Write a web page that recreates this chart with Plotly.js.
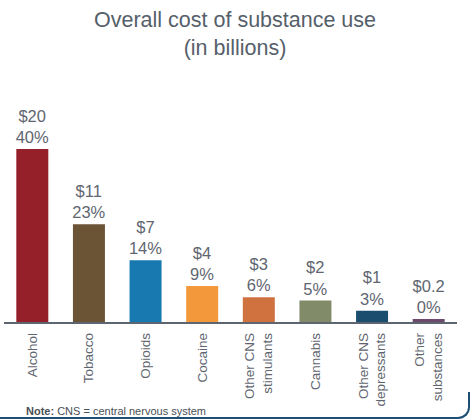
<!DOCTYPE html>
<html>
<head>
<meta charset="utf-8">
<script src="https://cdn.plot.ly/plotly-3.0.1.min.js"></script>
<style>
html,body{margin:0;padding:0;background:#fff;}
#wrap{position:relative;width:470px;height:420px;overflow:hidden;}
#chart{position:absolute;left:0;top:0;width:470px;height:420px;}
#frame{position:absolute;left:-20px;top:392px;width:488px;height:25px;border-bottom:2px solid #1d4e74;border-right:2px solid #1d4e74;border-bottom-right-radius:12px;pointer-events:none;}
</style>
</head>
<body>
<div id="wrap"><div id="chart"></div><div id="frame"></div></div>
<script>
const categories = ["Alcohol","Tobacco","Opioids","Cocaine","Other CNS<br>stimulants","Cannabis","Other CNS<br>depressants","Other<br>substances"];
const costs = [20.2, 11.4, 7.2, 4.2, 2.9, 2.5, 1.3, 0.35];
const costLabels = ["$20","$11","$7","$4","$3","$2","$1","$0.2"];
const shareLabels = ["40%","23%","14%","9%","6%","5%","3%","0%"];
const colors = ["#962029","#6b5335","#1878b0","#f4993b","#d07240","#818a69","#1a4d6e","#6b4a6b"];

const textColor = "#5f6670";
const trace = {
  type: "bar",
  x: categories,
  y: costs,
  marker: {color: colors},
  text: costLabels.map((c,i) => c + "<br>" + shareLabels[i]),
  textposition: "outside",
  constraintext: "none",
  cliponaxis: false,
  textfont: {family: "Liberation Sans, Arial, sans-serif", size: 16.5, color: textColor},
  hoverinfo: "none"
};

const layout = {
  width: 470, height: 420,
  margin: {l: 4, r: 13, t: 95, b: 98},
  paper_bgcolor: "#ffffff",
  plot_bgcolor: "#ffffff",
  bargap: 0.435,
  showlegend: false,
  xaxis: {
    type: "category",
    tickangle: -90,
    tickfont: {family: "Liberation Sans Narrow, Arial Narrow, Liberation Sans, sans-serif", size: 13.5, color: textColor},
    showline: true, linecolor: "#5d6670", linewidth: 1.5,
    ticks: "", showgrid: false, zeroline: false,
    ticklabelstandoff: 4
  },
  yaxis: {
    range: [0, 26.5],
    visible: false, showgrid: false, zeroline: false
  },
  annotations: [{
    xref: "paper", yref: "paper",
    x: 0.511, y: (322 - 34) / 227, xanchor: "center", yanchor: "middle",
    showarrow: false,
    text: "Overall cost of substance use<br>(in billions)",
    font: {family: "Liberation Sans, Arial, sans-serif", size: 21.5, color: "#56606a"}
  },{
    xref: "paper", yref: "paper",
    x: 0.044, y: -0.39, xanchor: "left", yanchor: "middle",
    showarrow: false,
    text: "<b>Note:</b> CNS = central nervous system",
    font: {family: "Liberation Sans, Arial, sans-serif", size: 11, color: "#4a4f55"}
  }]
};

Plotly.newPlot("chart", [trace], layout, {staticPlot: true, displayModeBar: false});
</script>
</body>
</html>
